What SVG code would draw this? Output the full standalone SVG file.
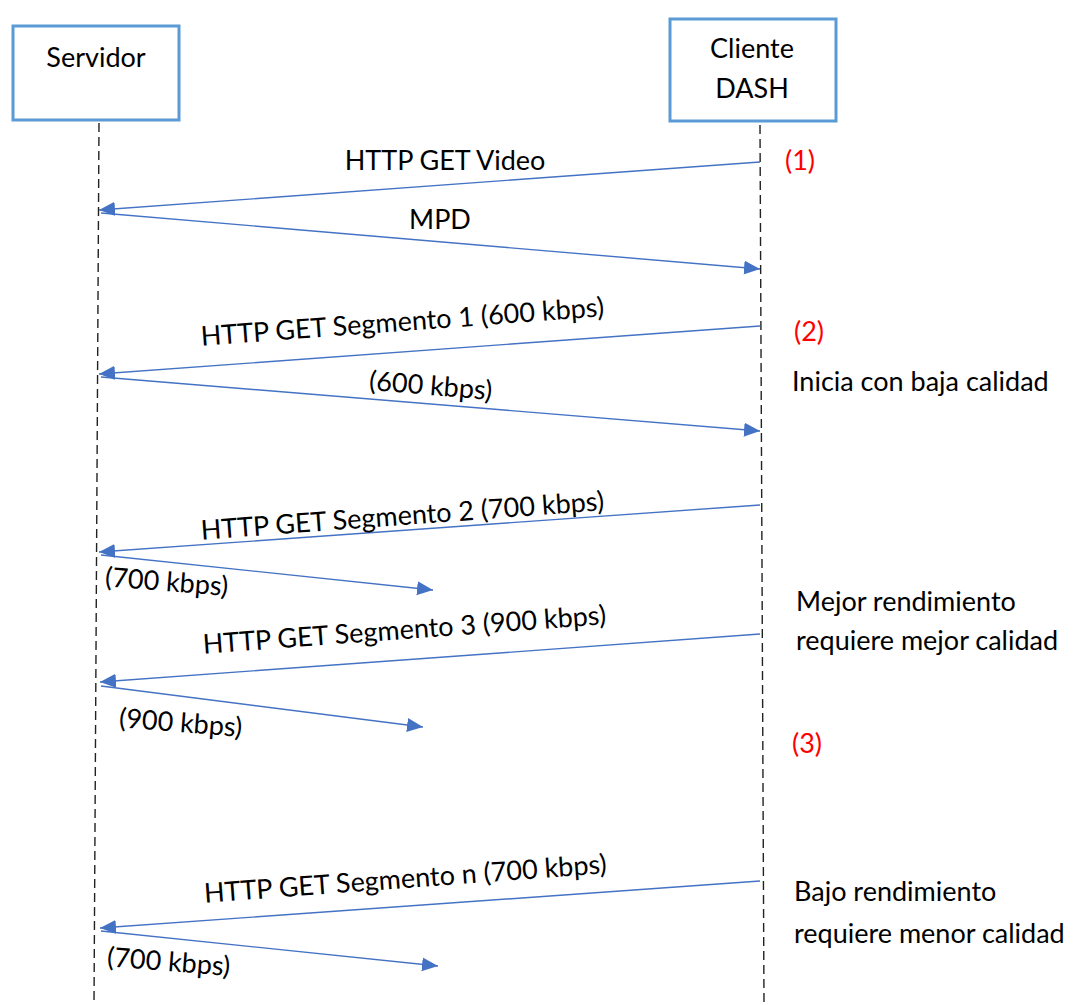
<svg xmlns="http://www.w3.org/2000/svg" width="1077" height="1005" viewBox="0 0 1077 1005">
  <defs>
    <style>
      .box { fill: #ffffff; stroke: #5B9BD5; stroke-width: 3; }
      .life { stroke: #222222; stroke-width: 1.4; stroke-dasharray: 9 5; fill: none; }
      .msg { stroke: #4472C4; stroke-width: 1.4; fill: none; marker-end: url(#arrow); }
      text { font-family: Lato, "Open Sans", "Liberation Sans", sans-serif; font-size: 27px; fill: #000000; }
      .mid { text-anchor: middle; }
      .step { fill: #FF0000; }
    </style>
    <marker id="arrow" markerUnits="userSpaceOnUse" markerWidth="18" markerHeight="16" refX="16" refY="7" orient="auto">
      <path d="M0,0 L16,7 L0,14 Z" fill="#4472C4"/>
    </marker>
  </defs>

  <!-- participants -->
  <g id="servidor">
    <rect class="box" x="13" y="26" width="166" height="94"/>
    <text class="mid" x="96" y="67">Servidor</text>
  </g>
  <g id="cliente-dash">
    <rect class="box" x="670" y="19" width="166" height="102"/>
    <text class="mid" x="752" y="58">Cliente</text>
    <text class="mid" x="752" y="98">DASH</text>
  </g>

  <!-- lifelines -->
  <g id="lifelines">
    <line class="life" x1="99" y1="123" x2="94" y2="1005"/>
    <line class="life" x1="760" y1="125" x2="764" y2="1005"/>
  </g>

  <!-- messages -->
  <g id="connectors">
    <line class="msg" x1="760" y1="162" x2="99" y2="210"/>
    <line class="msg" x1="101" y1="213" x2="760" y2="269"/>
    <line class="msg" x1="760" y1="326" x2="99" y2="374"/>
    <line class="msg" x1="101" y1="377" x2="760" y2="431"/>
    <line class="msg" x1="760" y1="505" x2="99" y2="552"/>
    <line class="msg" x1="101" y1="555" x2="433" y2="590"/>
    <line class="msg" x1="760" y1="634" x2="100" y2="682"/>
    <line class="msg" x1="101" y1="686" x2="423" y2="727"/>
    <line class="msg" x1="760" y1="881" x2="100" y2="928"/>
    <line class="msg" x1="101" y1="931" x2="438" y2="966"/>
  </g>

  <!-- message labels -->
  <g id="labels">
    <text class="mid" x="445" y="170">HTTP GET Video</text>
    <text class="mid" x="440" y="229">MPD</text>
    <text class="mid" transform="translate(403,331) rotate(-4.2)">HTTP GET Segmento 1 (600 kbps)</text>
    <text class="mid" transform="translate(430,395) rotate(4.7)">(600 kbps)</text>
    <text class="mid" transform="translate(403,525) rotate(-4.2)">HTTP GET Segmento 2 (700 kbps)</text>
    <text class="mid" transform="translate(166,591) rotate(4.5)">(700 kbps)</text>
    <text class="mid" transform="translate(405,639) rotate(-4.2)">HTTP GET Segmento 3 (900 kbps)</text>
    <text class="mid" transform="translate(180,732) rotate(4.5)">(900 kbps)</text>
    <text class="mid" transform="translate(406,888) rotate(-4.2)">HTTP GET Segmento n (700 kbps)</text>
    <text class="mid" transform="translate(168,971) rotate(4.5)">(700 kbps)</text>
  </g>

  <!-- annotations on the client side -->
  <g id="notes">
    <text class="step" x="785" y="170">(1)</text>
    <text class="step" x="794" y="341">(2)</text>
    <text x="792" y="391">Inicia con baja calidad</text>
    <text x="796" y="611">Mejor rendimiento</text>
    <text x="796" y="650">requiere mejor calidad</text>
    <text class="step" x="792" y="753">(3)</text>
    <text x="794" y="901">Bajo rendimiento</text>
    <text x="794" y="943">requiere menor calidad</text>
  </g>
</svg>
